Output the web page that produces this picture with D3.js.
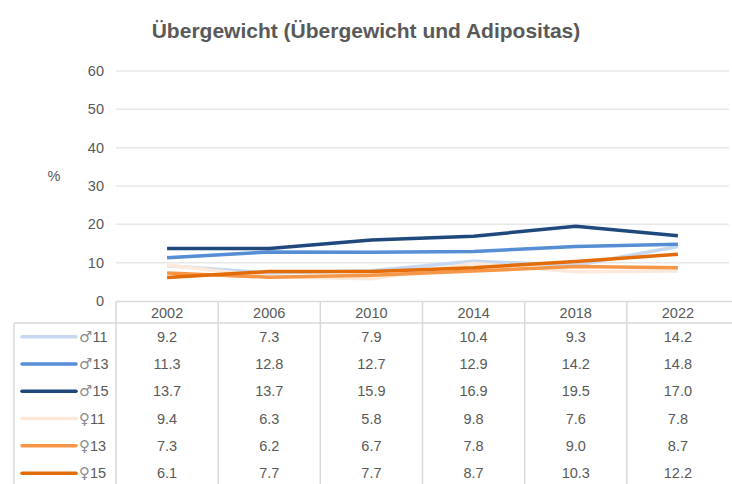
<!DOCTYPE html>
<meta charset="utf-8">
<style>
body { margin: 0; background: #fff; }
svg { font-family: Arial, "Liberation Sans", sans-serif; }
</style>
<body>
<script src="https://d3js.org/d3.v7.min.js"></script>
<script>

// data
var years = ["2002", "2006", "2010", "2014", "2018", "2022"];
var seriesSymbols = ["\u2642", "\u2642", "\u2642", "\u2640", "\u2640", "\u2640"];
var seriesAges = ["11", "13", "15", "11", "13", "15"];
var boys11 = [9.2, 7.3, 7.9, 10.4, 9.3, 14.2];
var boys13 = [11.3, 12.8, 12.7, 12.9, 14.2, 14.8];
var boys15 = [13.7, 13.7, 15.9, 16.9, 19.5, 17.0];
var girls11 = [9.4, 6.3, 5.8, 9.8, 7.6, 7.8];
var girls13 = [7.3, 6.2, 6.7, 7.8, 9.0, 8.7];
var girls15 = [6.1, 7.7, 7.7, 8.7, 10.3, 12.2];
var yTicks = [0, 10, 20, 30, 40, 50, 60];

var colors = ["#c6d9f0", "#558ed5", "#1f497d", "#fde9d9", "#f79646", "#e36c09"];
var values = [boys11, boys13, boys15, girls11, girls13, girls15];

var W = 732, H = 484;
var svg = d3.select("body").append("svg").attr("width", W).attr("height", H);

var x = d3.scaleBand().domain(years).range([116, 729]);
var y = d3.scaleLinear().domain([0, 60]).range([301, 71]);

var grey = "#595959", border = "#d9d9d9";

// title
svg.append("text")
    .attr("x", 366).attr("y", 38)
    .attr("text-anchor", "middle")
    .attr("font-size", 21).attr("font-weight", "bold")
    .attr("fill", grey)
    .text("\u00dcbergewicht (\u00dcbergewicht und Adipositas)");

// gridlines
svg.append("g").selectAll("line")
    .data(yTicks.slice(1))
  .enter().append("line")
    .attr("x1", 116).attr("x2", 729)
    .attr("y1", function(d) { return y(d); })
    .attr("y2", function(d) { return y(d); })
    .attr("stroke", "#e8e8e8").attr("stroke-width", 1.5);

// y tick labels
svg.append("g").selectAll("text")
    .data(yTicks)
  .enter().append("text")
    .attr("x", 104)
    .attr("y", function(d) { return y(d) + 5; })
    .attr("text-anchor", "end")
    .attr("font-size", 14.5).attr("fill", grey)
    .text(function(d) { return d; });

svg.append("text")
    .attr("x", 54).attr("y", 181)
    .attr("text-anchor", "middle")
    .attr("font-size", 14.5).attr("fill", grey)
    .text("%");

// lines
var line = d3.line()
    .x(function(d, i) { return x(years[i]) + x.bandwidth() / 2; })
    .y(function(d) { return y(d); });

svg.append("g").selectAll("path")
    .data(values)
  .enter().append("path")
    .attr("d", line)
    .attr("fill", "none")
    .attr("stroke", function(d, i) { return colors[i]; })
    .attr("stroke-width", 3.5)
    .attr("stroke-linejoin", "round");

// data table
var rowTop = 323, rowH = 27.3;
var tbl = svg.append("g").attr("stroke", border).attr("stroke-width", 1.5).attr("fill", "none");
tbl.append("line").attr("x1", 116).attr("x2", 732).attr("y1", 301.5).attr("y2", 301.5);
tbl.append("line").attr("x1", 14).attr("x2", 732).attr("y1", rowTop).attr("y2", rowTop);
tbl.append("line").attr("x1", 14).attr("x2", 14).attr("y1", rowTop).attr("y2", H);
tbl.selectAll(".v")
    .data(years)
  .enter().append("line")
    .attr("x1", function(d) { return x(d); })
    .attr("x2", function(d) { return x(d); })
    .attr("y1", 301.5).attr("y2", H);

svg.append("g").selectAll("text")
    .data(years)
  .enter().append("text")
    .attr("x", function(d) { return x(d) + x.bandwidth() / 2; })
    .attr("y", 318)
    .attr("text-anchor", "middle")
    .attr("font-size", 14.5).attr("fill", grey)
    .text(function(d) { return d; });

var rows = svg.append("g").selectAll("g")
    .data(values)
  .enter().append("g")
    .attr("transform", function(d, i) { return "translate(0," + (rowTop + rowH * i + rowH / 2) + ")"; });

rows.append("line")
    .attr("x1", 22).attr("x2", 76)
    .attr("stroke", function(d, i) { return colors[i]; })
    .attr("stroke-width", 3.5)
    .attr("stroke-linecap", "round");

var lbl = rows.append("text")
    .attr("x", 79).attr("y", 5)
    .attr("font-size", 14.5).attr("fill", grey);
lbl.append("tspan")
    .attr("font-family", "'DejaVu Sans'")
    .attr("font-size", 15)
    .attr("fill", "#8c8c8c")
    .text(function(d, i) { return seriesSymbols[i]; });
lbl.append("tspan")
    .text(function(d, i) { return seriesAges[i]; });

rows.selectAll(".val")
    .data(function(d) { return d; })
  .enter().append("text")
    .attr("x", function(d, i) { return x(years[i]) + x.bandwidth() / 2; })
    .attr("y", 5)
    .attr("text-anchor", "middle")
    .attr("font-size", 14.5).attr("fill", grey)
    .text(function(d) { return d.toFixed(1); });

</script>
</body>
